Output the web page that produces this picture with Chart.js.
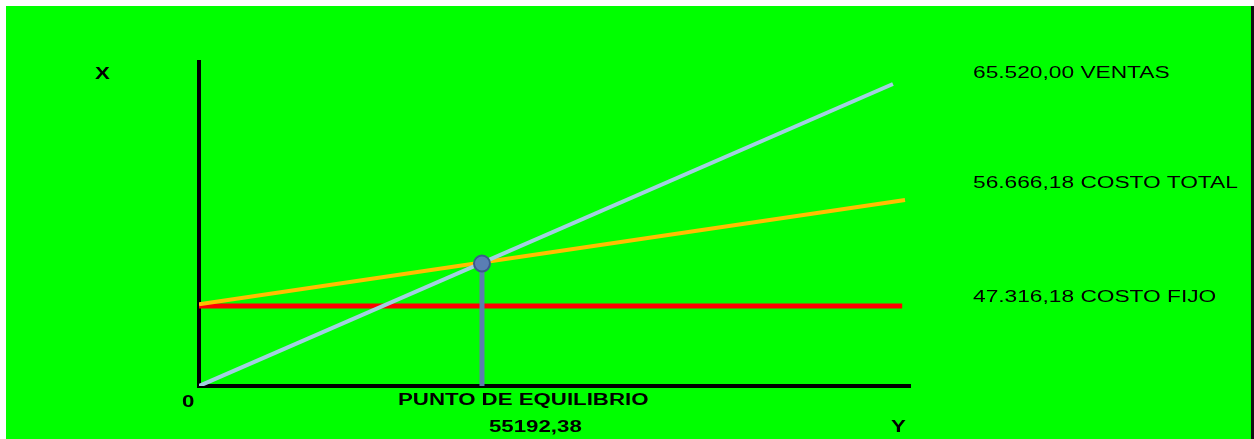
<!DOCTYPE html>
<html>
<head>
<meta charset="utf-8">
<script src="https://cdn.jsdelivr.net/npm/chart.js@4/dist/chart.umd.min.js"></script>
<style>
  html, body { margin:0; padding:0; background:#fff; width:1254px; height:439px; overflow:hidden; }
  #fondo { position:absolute; left:6px; top:6px; width:1245px; height:433px; background:#00ff00; border-right:3px solid #111; }
  #wrap { position:absolute; left:0; top:0; width:1254px; height:439px; }
  .lbl { position:absolute; font-family:"Liberation Sans", Arial, sans-serif; font-size:16px; line-height:16px; color:#000; white-space:nowrap; transform-origin:left top; transform:scaleX(1.42); }
  .b { font-weight:bold; transform:scaleX(1.39); }
</style>
</head>
<body>
<div id="fondo"></div>
<div id="wrap"><canvas id="pe" width="1254" height="439"></canvas></div>
<div id="labels"></div>
<script>
// --- Datos (escala esquemática) ---
const ventasX = [0, 97.6];
const ventasY = [0, 93.2];
const costoTotalX = [0, 99.3];
const costoTotalY = [25.2, 57.4];
const costoFijoX = [0, 98.9];
const costoFijoY = [24.7, 24.7];
const equilibrioX = [39.8, 39.8];
const equilibrioY = [37.8, 0];

const rightLabels = ["65.520,00 VENTAS", "56.666,18 COSTO TOTAL", "47.316,18 COSTO FIJO"];
const equilibrioTitulo = "PUNTO DE EQUILIBRIO";
const equilibrioValor = "55192,38";

const pts = (xs, ys) => xs.map((x, i) => ({ x, y: ys[i] }));

// Textos
const labelsEl = document.getElementById("labels");
function addLabel(text, left, top, bold){
  const d = document.createElement("div");
  d.className = "lbl" + (bold ? " b" : "");
  d.textContent = text;
  d.style.left = left + "px";
  d.style.top = top + "px";
  labelsEl.appendChild(d);
}
addLabel("X", 95, 66, true);
addLabel("0", 182, 394, true);
addLabel(equilibrioTitulo, 398, 392, true);
addLabel(equilibrioValor, 489, 419, true);
addLabel("Y", 891, 419, true);
addLabel(rightLabels[0], 973, 65, false);
addLabel(rightLabels[1], 973, 175, false);
addLabel(rightLabels[2], 973, 289, false);

// Chart.js
const ctx = document.getElementById("pe");
new Chart(ctx, {
  type: "line",
  data: {
    datasets: [
      {
        label: "Equilibrio",
        data: pts(equilibrioX, equilibrioY),
        borderColor: "#5a7fac",
        borderWidth: 5,
        pointRadius: [8, 0],
        pointBackgroundColor: "#5a7eb4",
        pointBorderColor: "#3b5b8a",
        pointBorderWidth: 2
      },
      {
        label: "Ventas",
        data: pts(ventasX, ventasY),
        borderColor: "#a3cfe2",
        borderWidth: 4,
        pointRadius: 0
      },
      {
        label: "Costo total",
        data: pts(costoTotalX, costoTotalY),
        borderColor: "#ffbf00",
        borderWidth: 4,
        pointRadius: 0
      },
      {
        label: "Costo fijo",
        data: pts(costoFijoX, costoFijoY),
        borderColor: "#ff0000",
        borderWidth: 5,
        pointRadius: 0
      }
    ]
  },
  options: {
    responsive: false,
    animation: false,
    layout: { padding: { left: 199, right: 344, top: 62, bottom: 53 } },
    plugins: { legend: { display: false }, tooltip: { enabled: false } },
    scales: {
      x: {
        type: "linear", min: 0, max: 100,
        grid: { display: false, drawTicks: false },
        ticks: { display: false },
        border: { display: true, color: "#000", width: 4 }
      },
      y: {
        type: "linear", min: 0, max: 100,
        grid: { display: false, drawTicks: false },
        ticks: { display: false },
        border: { display: true, color: "#000", width: 4 }
      }
    }
  }
});
</script>
</body>
</html>
